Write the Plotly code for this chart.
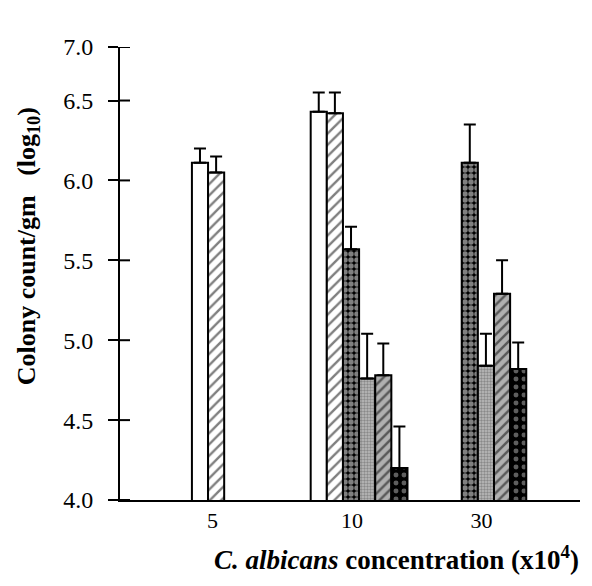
import plotly.graph_objects as go

categories = ["5", "10", "30"]
tick_pos = [0.765, 1.94, 3.03]

s1 = [6.11, 6.43, None]
s2 = [6.05, 6.42, None]
s3 = [None, 5.57, 6.11]
s4 = [None, 4.76, 4.84]
s5 = [None, 4.78, 5.29]
s6 = [None, 4.20, 4.82]

e1 = [0.09, 0.12, None]
e2 = [0.10, 0.13, None]
e3 = [None, 0.14, 0.24]
e4 = [None, 0.28, 0.20]
e5 = [None, 0.20, 0.21]
e6 = [None, 0.26, 0.165]

y_tickvals = [4.0, 4.5, 5.0, 5.5, 6.0, 6.5, 6.835]
y_ticktext = ["4.0", "4.5", "5.0", "5.5", "6.0", "6.5", "7.0"]

series = [s1, s2, s3, s4, s5, s6]
errors = [e1, e2, e3, e4, e5, e6]
patterns = [
    dict(shape="", bgcolor="white"),
    dict(shape="/", fgcolor="black", bgcolor="white", size=8, solidity=0.3),
    dict(shape=".", fgcolor="white", bgcolor="black", size=6, solidity=0.65),
    dict(shape=".", fgcolor="#555555", bgcolor="#bdbdbd", size=3, solidity=0.5),
    dict(shape="/", fgcolor="black", bgcolor="#b0b0b0", size=7, solidity=0.35),
    dict(shape=".", fgcolor="#bbbbbb", bgcolor="black", size=8, solidity=0.3),
]

xpos = [i + 1 for i in range(len(categories))]

fig = go.Figure()
for vals, errs, pat in zip(series, errors, patterns):
    fig.add_trace(go.Bar(
        x=xpos, y=vals,
        marker=dict(color="white", line=dict(color="black", width=2), pattern=pat),
        error_y=dict(type="data", array=errs, arrayminus=[0] * len(errs), symmetric=False,
                     color="black", thickness=2, width=6),
        showlegend=False,
    ))

# inner half of the crossing y-axis ticks
for tv in y_tickvals:
    fig.add_shape(type="line", xref="x domain", yref="y",
                  x0=0, x1=10 / 460, y0=tv, y1=tv,
                  line=dict(color="black", width=2))

font_family = "Liberation Serif"
fig.update_layout(
    width=584, height=578,
    margin=dict(l=112, r=12, t=39, b=86),
    paper_bgcolor="white", plot_bgcolor="white",
    barmode="group", bargap=0.185, bargroupgap=0,
    font=dict(family=font_family, color="black", size=22),
    xaxis=dict(
        range=[-0.013, 3.86], showgrid=False, zeroline=False,
        showline=True, linecolor="black", linewidth=2,
        tickvals=tick_pos, ticktext=categories, ticks="",
        tickfont=dict(size=22),
    ),
    yaxis=dict(
        range=[4.0, 6.835], showgrid=False, zeroline=False,
        showline=True, linecolor="black", linewidth=2,
        tickvals=y_tickvals, ticktext=y_ticktext,
        ticks="outside", ticklen=10, tickwidth=2, tickcolor="black",
        tickfont=dict(size=24), ticklabelstandoff=10,
    ),
    annotations=[
        dict(text="<b><i>C. albicans</i> concentration (x10<sup>4</sup>)</b>",
             xref="paper", yref="paper", x=0.6, y=-0.128,
             xanchor="center", yanchor="middle", showarrow=False,
             font=dict(size=27)),
        dict(text="<b>Colony count/gm&nbsp;&nbsp;&nbsp;(log<sub>10</sub>)</b>",
             xref="paper", yref="paper", x=-0.2, y=0.56,
             xanchor="center", yanchor="middle", showarrow=False, textangle=-90,
             font=dict(size=26)),
    ],
)

fig.write_html("out.html")
